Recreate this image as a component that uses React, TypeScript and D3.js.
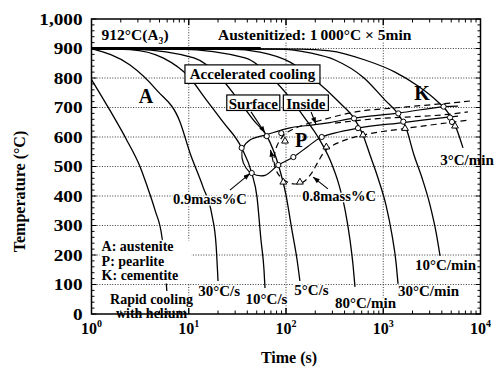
import React from 'react';
import * as d3 from 'd3';

type P = [number, number]; // [time (s), temperature (°C)]

// ---------- axes ----------
const yTickValues = [0, 100, 200, 300, 400, 500, 600, 700, 800, 900, 1000];
const yTickLabels = ['0', '100', '200', '300', '400', '500', '600', '700', '800', '900', '1,000'];
const xTickExponents = [0, 1, 2, 3, 4];

// ---------- cooling curves ----------
const rapidHelium: P[] = [[1, 795], [1.55, 690], [2.3, 590], [3.15, 500], [3.7, 437], [4.5, 352], [5.3, 261], [5.7, 166], [5.95, 78]];
const rate30Cs: P[] = [[1, 900], [2.49, 844], [4.68, 759], [8.13, 651], [10.3, 546], [14.0, 431], [17.3, 336], [19.1, 234], [20.0, 112]];
const rate10Cs: P[] = [[1, 900], [2.49, 896], [5.43, 868], [10.3, 800], [14.7, 732], [22.5, 651], [35.0, 563], [44.4, 478], [50.3, 397], [55.3, 251], [59.4, 149], [60.8, 88]];
const rate5Cs: P[] = [[1, 900], [2.8, 898], [11.3, 868], [21.4, 800], [31.3, 732], [48.0, 651], [63.4, 604], [83.5, 505], [100, 403], [115, 285], [130, 183], [139, 112]];
const rate80Cmin: P[] = [[1, 900], [8.1, 898], [37.9, 868], [71.8, 800], [110, 732], [161, 658], [213, 600], [284, 522], [351, 437], [405, 353], [455, 251], [489, 166], [512, 92]];
const rate30Cmin: P[] = [[1, 900], [26.5, 898], [54, 888], [110, 854], [199, 793], [359, 715], [500, 664], [619, 607], [731, 539], [883, 461], [1067, 369], [1230, 268], [1352, 176], [1419, 102]];
const rate10Cmin: P[] = [[1, 900], [86.7, 898], [177, 885], [319, 861], [634, 800], [1042, 725], [1419, 678], [1714, 631], [2070, 539], [2506, 461], [3027, 369], [3486, 278], [3837, 197]];
const rate3Cmin: P[] = [[1, 900], [139, 898], [283, 892], [649, 861], [1321, 820], [2277, 773], [3570, 722], [4745, 678], [5728, 624], [6605, 563]];
const coolingCurves = [rapidHelium, rate30Cs, rate10Cs, rate5Cs, rate80Cmin, rate30Cmin, rate10Cmin, rate3Cmin];
const a3Line: P[] = [[1, 900], [55, 900]];

// ---------- pearlite transformation lines ----------
const pearlite09C: P[] = [[5870, 705], [4168, 703], [1419, 681], [500, 664], [283, 649], [190, 641], [110, 631], [63.4, 608], [42.6, 590], [36.1, 563], [35.3, 529], [38.8, 495], [44.7, 476], [60.8, 470], [83.3, 505], [119, 532], [168, 568], [233, 600], [550, 630], [1596, 649], [4857, 668], [5870, 671]];
const pearlite08C: P[] = [[7798, 722], [5212, 716], [1486, 700], [537, 686], [224, 656], [133, 634], [97.7, 610], [80.8, 570], [75.3, 522], [80.8, 481], [95.3, 454], [118, 441], [150, 447], [181, 475], [213, 515], [258, 556], [359, 583], [619, 607], [1675, 629], [5690, 652], [7798, 658]];
const pearlite08Cmid: P[] = [[319, 647], [623, 658], [5690, 680], [7430, 685]];

const circleMarks: P[] = [[35.0, 563], [44.4, 478], [63.4, 603], [83.4, 505], [119, 532], [89.5, 613], [233, 600], [500, 663], [550, 630], [1429, 680], [1607, 652], [4168, 703], [4857, 666], [5093, 651]];
const triangleMarks: P[] = [[97.7, 586], [93.8, 447], [139, 447], [260, 566], [619, 607], [1675, 629], [5470, 637]];

// ---------- annotations ----------
const arrows: [P, P][] = [
  [[43.7, 685], [60.8, 614]],
  [[181, 685], [203, 644]],
  [[26.5, 420], [42.6, 476]],
  [[270, 424], [190, 464]],
  [[74.0, 515], [69.3, 556]],
];
const rateLabels: [string, number, number][] = [
  ['30°C/s', 20.5, 61], ['10°C/s', 63.0, 34], ['5°C/s', 183, 64], ['80°C/min', 657, 20],
  ['30°C/min', 2919, 61], ['10°C/min', 4365, 149], ['3°C/min', 7266, 505],
];
const phaseLetters: [string, number, number][] = [['A', 3.64, 714], ['P', 143, 566], ['K', 2500, 725]];
const massLabels: [string, number, number][] = [['0.9mass%C', 16.5, 373], ['0.8mass%C', 351, 383]];
const boxedLabels: [string, number, number, number][] = [
  ['Accelerated cooling', 45.2, 797, 135],
  ['Surface', 46.1, 695, 53],
  ['Inside', 160, 695, 45],
];
const legendLines = ['A: austenite', 'P: pearlite', 'K: cementite'];
const legendTemps = [212, 164, 116];
const rapidLabelLines = ['Rapid cooling', 'with helium'];
const rapidLabelTemps = [34, -15];

const FONT = "'Liberation Serif', 'Times New Roman', Times, serif";

export default function App() {
  const x = d3.scaleLog().domain([1, 1e4]).range([91.5, 480.5]);
  const y = d3.scaleLinear().domain([0, 1000]).range([314, 19]);
  const X0 = x.range()[0], X1 = x.range()[1], Y0 = y.range()[0], Y1 = y.range()[1];

  const line = d3.line<P>().x(d => x(d[0])).y(d => y(d[1])).curve(d3.curveMonotoneX);
  const cline = d3.line<P>().x(d => x(d[0])).y(d => y(d[1])).curve(d3.curveCatmullRom.alpha(0.5));
  const tri = d3.symbol().type(d3.symbolTriangle).size(20)();

  const halo = { paintOrder: 'stroke' as const, stroke: 'white', strokeWidth: 3, strokeLinejoin: 'round' as const };

  const minorY = d3.range(0, 1001, 20);
  const minorX: number[] = [];
  for (let d = 0; d < 4; d++) for (let k = 1; k <= 10; k++) minorX.push(k * Math.pow(10, d));

  return (
    <svg width={498} height={369} style={{ position: 'absolute', left: 0, top: 0, background: 'white' }} fontFamily={FONT} fontWeight="bold">
      <defs>
        <marker id="arr" viewBox="0 0 8 6" refX={8} refY={3} markerWidth={7} markerHeight={5} orient="auto" markerUnits="userSpaceOnUse">
          <path d="M0,0 L8,3 L0,6 z" fill="black" />
        </marker>
      </defs>
      <rect x={0} y={0} width={498} height={369} fill="white" />

      {/* grid */}
      <g stroke="#222" strokeWidth={0.9} strokeDasharray="1,1.6">
        {yTickValues.slice(1, -1).map(v => <line key={'gy' + v} x1={X0} x2={X1} y1={y(v)} y2={y(v)} />)}
        {xTickExponents.slice(1, -1).map(e => <line key={'gx' + e} x1={x(10 ** e)} x2={x(10 ** e)} y1={Y0} y2={Y1} />)}
      </g>

      {/* cooling curves */}
      <g fill="none" stroke="black" strokeWidth={1.3}>
        {coolingCurves.map((c, i) => <path key={'c' + i} d={line(c) || ''} />)}
        <path d={line(a3Line) || ''} strokeWidth={2.8} />
      </g>

      {/* transformation lines */}
      <g fill="none" stroke="black" strokeWidth={1.2}>
        <path d={cline(pearlite09C) || ''} />
        <path d={cline(pearlite08C) || ''} strokeDasharray="6,4" />
        <path d={line(pearlite08Cmid) || ''} strokeDasharray="6,4" />
      </g>

      {/* markers */}
      <g fill="white" stroke="black" strokeWidth={1}>
        {circleMarks.map((m, i) => <circle key={'o' + i} cx={x(m[0])} cy={y(m[1])} r={2.6} />)}
        {triangleMarks.map((m, i) => <path key={'t' + i} d={tri || ''} transform={`translate(${x(m[0])},${y(m[1])})`} />)}
      </g>

      {/* arrows */}
      <g stroke="black" strokeWidth={1.1}>
        {arrows.map((a, i) => <line key={'a' + i} x1={x(a[0][0])} y1={y(a[0][1])} x2={x(a[1][0])} y2={y(a[1][1])} markerEnd="url(#arr)" />)}
      </g>

      {/* top texts */}
      <text x={x(1.27)} y={y(929)} fontSize={15.5} style={halo}>912°C(A<tspan fontSize={10} dy={4}>3</tspan><tspan dy={-4}>)</tspan></text>
      <text x={x(20)} y={y(929)} fontSize={15.5} style={halo}>Austenitized: 1{'\u2009'}000°C × 5min</text>

      {/* boxed labels */}
      {boxedLabels.map(([t, tt, T, w]) => (
        <g key={t}>
          <rect x={x(tt) - w / 2} y={y(T) - 14} width={w} height={t === 'Accelerated cooling' ? 18.5 : 15.5} fill="white" stroke="black" strokeWidth={1.2} />
          <text x={x(tt)} y={y(T)} fontSize={15} textAnchor="middle">{t}</text>
        </g>
      ))}

      {/* phase letters */}
      {phaseLetters.map(([t, tt, T]) => <text key={t} x={x(tt)} y={y(T)} fontSize={20} textAnchor="middle">{t}</text>)}

      {/* mass labels */}
      {massLabels.map(([t, tt, T]) => <text key={t} x={x(tt)} y={y(T)} fontSize={14.5} textAnchor="middle" style={halo}>{t}</text>)}

      {/* rate labels */}
      {rateLabels.map(([t, tt, T]) => <text key={t} x={x(tt)} y={y(T)} fontSize={15} textAnchor="middle" style={halo}>{t}</text>)}

      {/* legend */}
      <rect x={x(1.27) - 2} y={y(legendTemps[0]) - 11} width={92} height={43} fill="white" />
      {legendLines.map((t, i) => <text key={t} x={x(1.27)} y={y(legendTemps[i])} fontSize={14} style={halo}>{t}</text>)}
      {rapidLabelLines.map((t, i) => <text key={t} x={x(4.14)} y={y(rapidLabelTemps[i])} fontSize={14} textAnchor="middle" style={halo}>{t}</text>)}

      {/* frame */}
      <rect x={X0} y={Y1} width={X1 - X0} height={Y0 - Y1} fill="none" stroke="black" strokeWidth={1.5} />

      {/* ticks */}
      <g stroke="black" strokeWidth={1}>
        {minorY.map(v => {
          const len = v % 100 === 0 ? 5 : 3;
          return (
            <g key={'ty' + v}>
              <line x1={X0} x2={X0 + len} y1={y(v)} y2={y(v)} />
              <line x1={X1} x2={X1 - len} y1={y(v)} y2={y(v)} />
            </g>
          );
        })}
        {minorX.map((t, i) => {
          const major = Math.abs(Math.log10(t) - Math.round(Math.log10(t))) < 1e-9;
          const len = major ? 6 : 3.5;
          return (
            <g key={'tx' + i}>
              <line x1={x(t)} x2={x(t)} y1={Y0} y2={Y0 - len} />
              <line x1={x(t)} x2={x(t)} y1={Y1} y2={Y1 + len} />
            </g>
          );
        })}
      </g>

      {/* y tick labels */}
      {yTickValues.map((v, i) => (
        <text key={'yl' + v} transform={`translate(82.5,${y(v) + 5.5}) scale(1.2,1)`} fontSize={16} textAnchor="end">{yTickLabels[i]}</text>
      ))}
      {/* x tick labels */}
      {xTickExponents.map(e => (
        <text key={'xl' + e} x={x(10 ** e)} y={334} fontSize={16} textAnchor="middle">10<tspan fontSize={10} dy={-7}>{e}</tspan></text>
      ))}

      {/* axis titles */}
      <text transform={`translate(25,${(Y0 + Y1) / 2 + 25}) rotate(-90)`} fontSize={16} textAnchor="middle">Temperature (°C)</text>
      <text x={(X0 + X1) / 2 + 3} y={363} fontSize={16} textAnchor="middle">Time (s)</text>
    </svg>
  );
}
